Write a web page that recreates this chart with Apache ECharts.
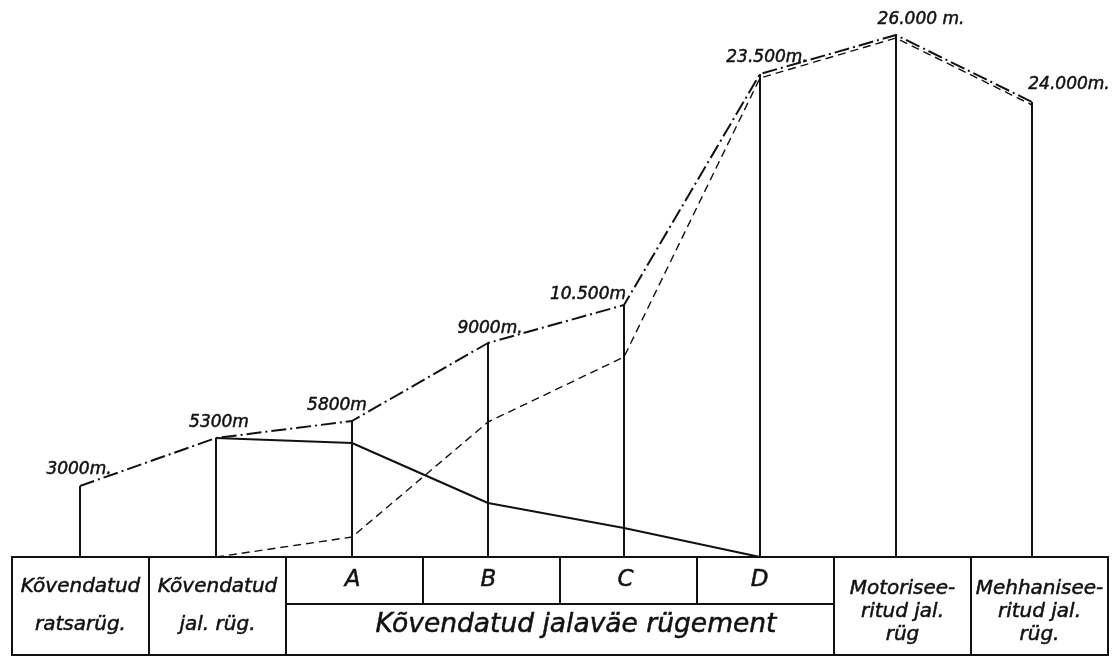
<!DOCTYPE html>
<html><head><meta charset="utf-8">
<script src="https://cdn.jsdelivr.net/npm/echarts@6/dist/echarts.min.js"></script>
<style>html,body{margin:0;padding:0;background:#fff}#c{width:1116px;height:657px}</style>
</head><body><div id="c"></div>
<script>
// ---- data (heights, baseline = 0; the drawing is schematic, not to scale) ----
const categories = ['Kõvendatud ratsarüg.', 'Kõvendatud jal. rüg.', 'A', 'B', 'C', 'D', 'Motoriseeritud jal. rüg', 'Mehhaniseeritud jal. rüg.'];
const rangeLabels = ['3000m.', '5300m', '5800m', '9000m.', '10.500m', '23.500m.', '26.000 m.', '24.000m.'];
const dashDotHeights = [71, 119, 136, 214, 252, 483, 522, 455];
const solidHeights = [null, 119, 114, 54, 29, 0, null, null];
const dashedHeights = [null, 0, 20, 135, 200, 479, 519, 452];
// table: [firstCol, lastCol+1, row (0 top, 1 bottom, 2 both), text]
const tableCells = [
  [0, 1, 2, 'Kõvendatud\nratsarüg.'],
  [1, 2, 2, 'Kõvendatud\njal. rüg.'],
  [2, 3, 0, 'A'], [3, 4, 0, 'B'], [4, 5, 0, 'C'], [5, 6, 0, 'D'],
  [2, 6, 1, 'Kõvendatud jalaväe rügement'],
  [6, 7, 2, 'Motorisee-\nritud jal.\nrüg'],
  [7, 8, 2, 'Mehhanisee-\nritud jal.\nrüg.']
];

// ---- styling ----
const INK = '#111';
const FONT = 'DejaVu Sans';
const labelOffsets = [[-1, -16], [3, -15], [-15, -15], [2, -14], [-36, -10], [7, -16], [25, -15], [37, -17]];
const cellStyle = {
  'A': {size: 23, lh: 23, dx: -2}, 'B': {size: 23, lh: 23, dx: -3}, 'C': {size: 23, lh: 23, dx: -3}, 'D': {size: 23, lh: 23, dx: -6},
  'Kõvendatud jalaväe rügement': {size: 26.5, lh: 27, dy: -4, dx: 16}
};

const chart = echarts.init(document.getElementById('c'), null, {renderer: 'canvas'});
chart.setOption({
  backgroundColor: '#fff',
  animation: false,
  grid: [
    {left: 12, right: 16, top: 17, bottom: 100},
    {left: 12, right: 8, top: 557, height: 98}
  ],
  xAxis: [
    {type: 'category', gridIndex: 0, data: categories, boundaryGap: true, show: false},
    {type: 'value', gridIndex: 1, min: 0, max: categories.length, show: false}
  ],
  yAxis: [
    {type: 'value', gridIndex: 0, min: 0, max: 540, show: false},
    {type: 'value', gridIndex: 1, min: 0, max: 98, inverse: true, show: false}
  ],
  series: [
    {
      type: 'bar', xAxisIndex: 0, yAxisIndex: 0, barWidth: 2,
      itemStyle: {color: INK},
      data: dashDotHeights.map((v, i) => ({
        value: v,
        label: {
          show: true, position: 'top', distance: 0,
          offset: [labelOffsets[i][0], labelOffsets[i][1] + 8],
          formatter: rangeLabels[i],
          fontFamily: FONT, fontStyle: 'italic', fontSize: 17, lineHeight: 17, color: INK,
          textBorderColor: INK, textBorderWidth: 0.5
        }
      }))
    },
    {
      type: 'line', xAxisIndex: 0, yAxisIndex: 0, data: dashDotHeights, symbol: 'none',
      lineStyle: {color: INK, width: 2, type: [15, 4, 2, 4]}, z: 3
    },
    {
      type: 'line', xAxisIndex: 0, yAxisIndex: 0, data: solidHeights, symbol: 'none',
      lineStyle: {color: INK, width: 2, type: 'solid'}, z: 3
    },
    {
      type: 'line', xAxisIndex: 0, yAxisIndex: 0, data: dashedHeights, symbol: 'none',
      lineStyle: {color: INK, width: 1.4, type: [8, 5]}, z: 3
    },
    {
      type: 'custom', xAxisIndex: 1, yAxisIndex: 1,
      data: tableCells,
      encode: {x: [0, 1], y: 2},
      renderItem: function (params, api) {
        const c = tableCells[params.dataIndex];
        const rowTop = c[2] === 1 ? 47 : 0;
        const rowBot = c[2] === 0 ? 47 : 98;
        const p0 = api.coord([c[0], rowTop]);
        const p1 = api.coord([c[1], rowBot]);
        const nLines = c[3].split('\n').length;
        const st = cellStyle[c[3]] || {size: 20, lh: nLines === 2 ? 38 : 23, dy: nLines === 3 ? 6 : 0};
        return {
          type: 'group',
          children: [
            {type: 'rect', shape: {x: p0[0], y: p0[1], width: p1[0] - p0[0], height: p1[1] - p0[1]},
             style: {fill: 'none', stroke: INK, lineWidth: 2}},
            {type: 'text', x: (p0[0] + p1[0]) / 2 + (st.dx || 0), y: (p0[1] + p1[1]) / 2 + (st.dy || 0),
             style: {text: c[3], fill: INK, font: 'italic ' + st.size + 'px "' + FONT + '"',
                     stroke: INK, lineWidth: 0.5,
                     lineHeight: st.lh, align: 'center', verticalAlign: 'middle'}}
          ]
        };
      }
    }
  ]
});
</script></body></html>
